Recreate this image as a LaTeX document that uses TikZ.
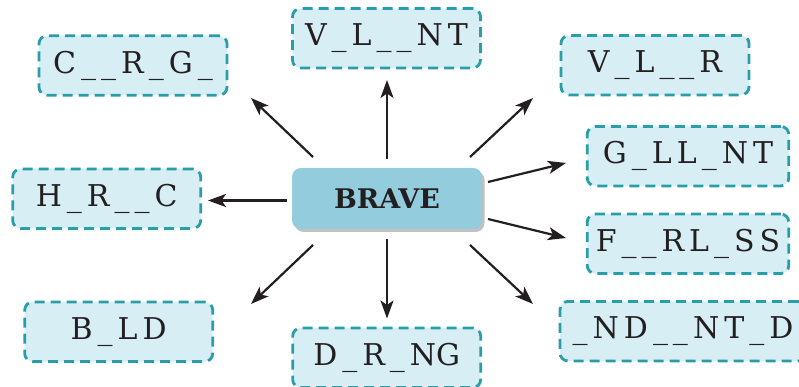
\documentclass[tikz,border=0pt]{standalone}
\usepackage{fontspec}
\setmainfont{DejaVu Serif}
\usepackage{tikz}
\usetikzlibrary{positioning}
\usetikzlibrary{arrows.meta,shadows}

\definecolor{boxfill}{HTML}{D7EEF4}
\definecolor{boxline}{HTML}{2A9DAB}
\definecolor{rootfill}{HTML}{93CCDD}
\definecolor{inkdark}{HTML}{231F20}

\tikzset{
	wordbox/.style={draw=boxline, fill=boxfill, line width=2.8pt, dash pattern=on 10pt off 6pt,
		rounded corners=8pt, minimum width=188pt, minimum height=59.5pt, inner sep=0pt,
		text=inkdark, font={\fontsize{30}{36}\selectfont\spaceskip=5pt\relax}},
	rootbox/.style={fill=rootfill, rounded corners=9pt, minimum width=190pt, minimum height=61pt,
		inner sep=0pt, text=inkdark, font={\bfseries\fontsize{27}{30}\selectfont},
		drop shadow={shadow xshift=2.5pt, shadow yshift=-3pt, opacity=0.35, fill=black!70}},
	arr/.style={-{Stealth[length=18pt,width=13pt,inset=4.5pt]}, line width=2.2pt, draw=inkdark},
}

\begin{document}
\begin{tikzpicture}[x=1pt,y=1pt]
	
	% ------------------------------------------------
	% Size of the page
	\useasboundingbox (0,0) rectangle (799,387);
	
	% ------------------------------------------------
	% Root word
	\node[rootbox] (brave) at (387,188.5) {BRAVE};
	
	% ----------------
	% Words to fill in
	\node[wordbox] (carg)  at (133,321.5)   {C \_ \_ R \_ G \_};
	\node[wordbox] (vlnt)  at (386.5,348.7) {V \_ L \_ \_ N T};
	\node[wordbox] (vlr)   at (655,321.8)   {V \_ L \_ \_ R};
	\node[wordbox, minimum width=201.5pt] (gllnt) at (688,230.8) {G \_ L L \_ N T};
	\node[wordbox, minimum width=201.5pt] (frlss) at (688,143.2) {F \_ \_ R L \_ S S};
	\node[wordbox] (hrc)   at (106.7,188.3) {H \_ R \_ \_ C};
	\node[wordbox] (bld)   at (118.7,55.2)  {B \_ L D};
	\node[wordbox, minimum width=246pt] (ndntd) at (683,55.8) {\_ N D \_ \_ N T \_ D};
	\node[wordbox] (drng)  at (386.7,29.2)  {D \_ R \_ NG};
	
	% ------------------------------------------------
	% Ends of the arrows
	\path (brave) +(-74,41.5)  coordinate (carg-s)  +(-136,100.5) coordinate (carg-e);
	\path (brave) +(0,39.5)    coordinate (vlnt-s)  +(0,118.5)    coordinate (vlnt-e);
	\path (brave) +(83,41.5)   coordinate (vlr-s)   +(146,100.5)  coordinate (vlr-e);
	\path (brave) +(101,16.5)  coordinate (gllnt-s) +(179,35.5)   coordinate (gllnt-e);
	\path (brave) +(101,-20.5) coordinate (frlss-s) +(179,-39.5)  coordinate (frlss-e);
	\path (brave) +(-100,-2)   coordinate (hrc-s)   +(-179,-2)    coordinate (hrc-e);
	\path (brave) +(-74,-46.5) coordinate (bld-s)   +(-136,-105.5) coordinate (bld-e);
	\path (brave) +(0,-40.5)   coordinate (drng-s)  +(0,-120)     coordinate (drng-e);
	\path (brave) +(83,-46.5)  coordinate (ndntd-s) +(146,-105.5) coordinate (ndntd-e);
	
	% ----------------
	% Arrows
	\foreach \w in {carg,vlnt,vlr,gllnt,frlss,hrc,bld,drng,ndntd}
		\draw[arr] (\w-s) -- (\w-e);
	
\end{tikzpicture}
\end{document}
